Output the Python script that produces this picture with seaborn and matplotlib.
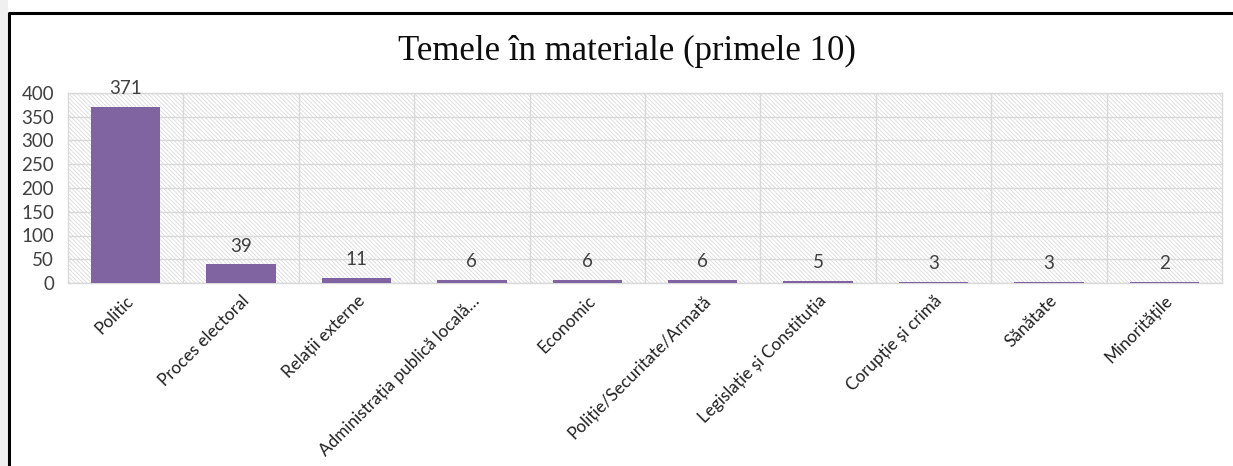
import matplotlib
matplotlib.use('Agg')
import matplotlib.pyplot as plt
import seaborn as sns
import pandas as pd
from matplotlib.patches import Rectangle
from matplotlib.lines import Line2D

# Data
categories = ['Politic', 'Proces electoral', 'Relații externe', 'Administrația publică locală…',
              'Economic', 'Poliție/Securitate/Armată', 'Legislație și Constituția',
              'Corupție și crimă', 'Sănătate', 'Minoritățile']
counts = [371, 39, 11, 6, 6, 6, 5, 3, 3, 2]
y_ticks = [0, 50, 100, 150, 200, 250, 300, 350, 400]

df = pd.DataFrame({'Tema': categories, 'Numar': counts})

sns.set_style('white')
plt.rcParams['font.family'] = ['Lato', 'DejaVu Sans']
plt.rcParams['hatch.linewidth'] = 0.5

W, H = 1233, 466
fig = plt.figure(figsize=(W / 100, H / 100), dpi=100)
ax = fig.add_axes([68 / W, 1 - 283 / H, (1222 - 68) / W, (283 - 93) / H])

# hatched background
bg = Rectangle((0, 0), 1, 1, transform=ax.transAxes, facecolor='white',
               edgecolor='#d4d4d4', hatch='\\' * 8, linewidth=0, zorder=0)
ax.add_patch(bg)

sns.barplot(data=df, x='Tema', y='Numar', color='#8064A2', width=0.6,
            saturation=1, linewidth=0, ax=ax, zorder=3)

for i, v in enumerate(counts):
    ax.annotate(str(v), (i, v), xytext=(0, 7), textcoords='offset points',
                ha='center', va='bottom', fontsize=13.5, color='#404040', zorder=4)

ax.set_ylim(0, 400)
ax.set_xlim(-0.5, len(categories) - 0.5)
ax.set_yticks(y_ticks)
ax.set_yticklabels([str(t) for t in y_ticks], fontsize=13.5, color='#404040')
ax.set_xticks(range(len(categories)))
ax.set_xticklabels(categories, rotation=45, ha='right', rotation_mode='anchor',
                   fontsize=12.3, color='#202020')
ax.set_xticks([i + 0.5 for i in range(len(categories) - 1)], minor=True)
ax.tick_params(axis='both', which='both', length=0)
ax.tick_params(axis='y', pad=10)
ax.tick_params(axis='x', pad=7)
ax.grid(axis='y', color='#d9d9d9', linewidth=1, zorder=1)
ax.grid(axis='x', which='minor', color='#d9d9d9', linewidth=1, zorder=1)
ax.grid(axis='x', which='major', visible=False)
ax.set_axisbelow(True)
ax.set_xlabel('')
ax.set_ylabel('')
for s in ax.spines.values():
    s.set_color('#d9d9d9')
    s.set_linewidth(1)

fig.text((397 + 857) / 2 / W, 1 - 51 / H, 'Temele în materiale (primele 10)',
         ha='center', va='center', fontsize=25, family=['Liberation Serif', 'DejaVu Serif'],
         color='#0d0d0d')

# page strip and frame
fig.patches.append(Rectangle((0, 0), 8 / W, 1, transform=fig.transFigure,
                             facecolor='#f0f0f0', edgecolor='none', zorder=0))
fig.lines.append(Line2D([9 / W, 9 / W, 1], [0, 1 - 12.5 / H, 1 - 12.5 / H],
                        transform=fig.transFigure, color='black', linewidth=2.2))

fig.savefig('out.png', dpi=100)
